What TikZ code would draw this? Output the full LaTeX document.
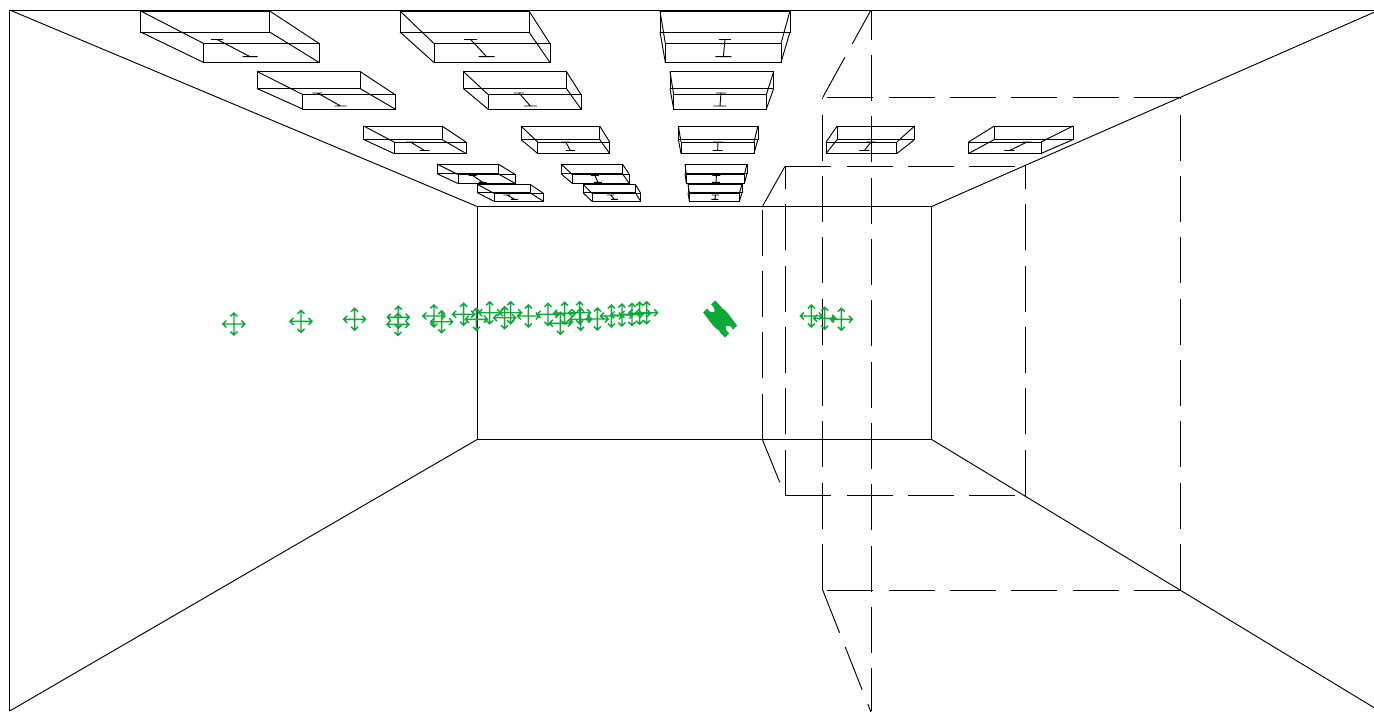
\documentclass[tikz,border=0pt]{standalone}
\definecolor{movegreen}{HTML}{0BAA37}
\tikzset{
  wire/.style={draw=black,line width=0.7pt,line join=miter},
  dashline/.style={wire,dash pattern=on 34.5pt off 11.5pt},
  moveicon/.pic={
    \draw[draw=movegreen,line width=1.05pt]
      (-11,0)--(11,0) (0,-11)--(0,11)
      (-7.5,-3.5)--(-11,0)--(-7.5,3.5) (7.5,-3.5)--(11,0)--(7.5,3.5)
      (-3.5,-7.5)--(0,-11)--(3.5,-7.5) (-3.5,7.5)--(0,11)--(3.5,7.5);
  }
}
\begin{document}
\begin{tikzpicture}[x=0.75pt,y=-0.75pt]
\useasboundingbox (0,0) rectangle (1374,711);
\clip (0,0) rectangle (1374,711);
\begin{scope}[xshift=-0.25pt]
% room
\draw[wire] (10,711)--(10,10)--(1375,10);
\draw[wire] (477.5,206.5) rectangle (932,439.5);
\draw[wire] (10,10)--(477.5,206.5);
\draw[wire] (10,711)--(477.5,439.5);
\draw[wire] (1375,12)--(932,206.5);
\draw[wire] (1375,708)--(932,439.5);
% dashed frames
\draw[dashline] (1180.3,97.5)--(823,97.5);
\draw[dashline] (1180.3,590)--(823,590);
\draw[dashline] (823,590)--(823,97.5);
\draw[dashline] (1180.3,590)--(1180.3,97.5);
\draw[dashline] (785.5,166)--(1026,166);
\draw[dashline] (785.5,495.7)--(1026,495.7);
\draw[dashline] (785.5,495.7)--(785.5,166);
\draw[dashline] (1026,495.7)--(1026,166);
\draw[dashline] (762.7,439.5)--(762.7,206.5);
\draw[dashline] (762.7,206.5)--(785.5,166);
\draw[dashline] (762.7,439.5)--(785.5,495.7);
\draw[dashline] (823,97.5)--(871.3,10);
\draw[dashline] (823,590)--(871.3,712);
\draw[dashline,dash phase=2.5pt] (871.3,711)--(871.3,10);
% ceiling boxes
\foreach \ya/\yb/\yc/\yd/\ye/\yf/\bl/\br/\fl/\fr/\tx/\th/\bx/\bh in {
  11/32/43.5/62.5/39.5/56.7/141/270/204/319.5/217.5/6/250.5/7.5,
  11/32/43.5/62.5/39.5/56.7/400.3/529.3/434.3/550.3/471/6.5/487/8,
  11/32/43.5/62.5/39.5/56.7/660.3/790.3/665.7/781.3/725.3/6/723.7/8,
  71.5/88.5/94.5/109/93/106/257.3/360.3/303/395.3/317.7/5/341/6,
  71.5/88.5/94.5/109/93/106/463.7/566.7/488.3/581.3/519.3/5/530.7/6.5,
  71.5/88.5/94.5/109/93/106/670.3/774/674/766.7/721.3/5/720.3/6.5,
  126/139.5/142/153.5/142/150.5/364/442.3/394.3/466.3/410.7/4/425/5,
  126/139.5/142/153.5/142/150.5/521.3/600/538/610/566/4/570.7/4.5,
  126/139.5/142/153.5/142/150.5/678.7/758.3/681.3/754.3/718.3/5/718/5,
  126/139.5/142/153.5/142/150.5/837.5/915/826.4/897.2/871.4/4.5/864.6/5,
  126/139.5/142/153.5/142/150.5/994.7/1073.5/968.9/1041.3/1027.4/4.5/1009.8/5,
  164/173.7/174.5/183.5/175.5/182.3/437.3/498.3/458.3/515.7/473/4/483/4,
  164/173.7/174.5/183.5/175.5/182.3/561.3/622.7/572.7/629.7/595.3/4/598.3/4,
  164/173.7/174.5/183.5/175.5/182.3/685.3/747.3/686.7/744.7/716.7/4/716.3/4,
  184.3/192.7/193.3/201.3/195/199.3/477.7/530.3/494.3/543.7/507.3/3.5/515/3.5,
  184.3/192.7/193.3/201.3/195/199.3/583.3/635.7/592.3/641/611/3.5/614.7/3.5,
  184.3/192.7/193.3/201.3/195/199.3/688.3/742.3/689.7/739.7/715.7/3.5/715.3/3.5}{
  \draw[wire] (\bl,\ya) rectangle (\br,\yb);
  \draw[wire] (\fl,\yc) rectangle (\fr,\yd);
  \draw[wire] (\bl,\ya)--(\fl,\yc) (\bl,\yb)--(\fl,\yd)
              (\br,\ya)--(\fr,\yc) (\br,\yb)--(\fr,\yd);
  \draw[wire] (\tx-\th,\ye)--(\tx+\th,\ye) (\tx,\ye)--(\bx,\yf) (\bx-\bh,\yf)--(\bx+\bh,\yf);
}
% move icons
\foreach \px/\py in {234.3/324,301.3/321.3,355/319.3,398.7/317.3,398.3/324.3,434.3/316,442/321.7,
  464/314.3,476.7/319.3,490/312.7,505/317.7,511/312.7,528.7/316,548.3/314.3,560.7/323.3,565/313.3,
  580/312.7,581/319.3,597.7/319,611.7/316,622.3/315,632.3/314.3,640/313.3,647/312.7,
  811.7/316,825/318.3,841.7/319.3}{
  \path (\px,\py) pic {moveicon};
}
\foreach \k in {0,...,12}{
  \path ({715.5+\k*10/12},{312.5+\k*13/12}) pic {moveicon};
}
\end{scope}
\end{tikzpicture}
\end{document}
